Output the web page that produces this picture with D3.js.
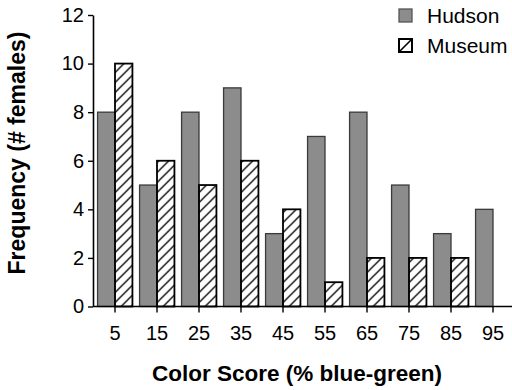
<!DOCTYPE html>
<html>
<head>
<meta charset="utf-8">
<script src="https://cdn.jsdelivr.net/npm/d3@7"></script>
<style>
  body { margin: 0; background: #fff; }
  svg { display: block; font-family: "Liberation Sans", Arial, Helvetica, sans-serif; }
</style>
</head>
<body>
<svg id="chart" width="512" height="390"></svg>
<script>
// color score bins (% blue-green)
var categories = ["5", "15", "25", "35", "45", "55", "65", "75", "85", "95"];
var series = ["Hudson", "Museum"];
var hudson = [8, 5, 8, 9, 3, 7, 8, 5, 3, 4];
var museum = [10, 6, 5, 6, 4, 1, 2, 2, 2, 0];
var yTicks = [0, 2, 4, 6, 8, 10, 12];

var svg = d3.select("#chart");

// hatch for the museum bars
var defs = svg.append("defs");
defs.append("pattern")
  .attr("id", "hatch")
  .attr("patternUnits", "userSpaceOnUse")
  .attr("width", 10)
  .attr("height", 10)
  .append("path")
  .attr("d", "M0,10 L10,0 M-2,2 L2,-2 M8,12 L12,8")
  .attr("stroke", "#000")
  .attr("stroke-width", 1.3);

var x0 = d3.scaleBand().domain(categories).range([94, 514])
  .paddingInner(0.17).paddingOuter(0.085);
var x1 = d3.scaleBand().domain(series).range([0, x0.bandwidth()]);
var y = d3.scaleLinear().domain([0, 12]).range([306.5, 15]);

var rows = categories.map(function(c, i) {
  return { cat: c, vals: [{ s: "Hudson", v: hudson[i] }, { s: "Museum", v: museum[i] }] };
});

var groups = svg.append("g").selectAll("g")
  .data(rows)
  .enter().append("g")
  .attr("transform", function(d) { return "translate(" + x0(d.cat) + ",0)"; });

groups.selectAll("rect")
  .data(function(d) { return d.vals.filter(function(e) { return e.v > 0; }); })
  .enter().append("rect")
  .attr("x", function(d) { return x1(d.s); })
  .attr("y", function(d) { return y(d.v); })
  .attr("width", x1.bandwidth())
  .attr("height", function(d) { return y(0) - y(d.v); })
  .attr("fill", function(d) { return d.s == "Hudson" ? "#8c8c8c" : "url(#hatch)"; })
  .attr("stroke", function(d) { return d.s == "Hudson" ? "#3a3a3a" : "#000"; })
  .attr("stroke-width", function(d) { return d.s == "Hudson" ? 1.3 : 1.8; });

// white under the hatch
groups.selectAll("rect").filter(function(d) { return d.s == "Museum"; }).each(function(d) {
  d3.select(this.parentNode).insert("rect", function() { return this.firstChild; })
    .attr("x", x1(d.s)).attr("y", y(d.v))
    .attr("width", x1.bandwidth()).attr("height", y(0) - y(d.v))
    .attr("fill", "#fff");
});

// axes
var xAxis = svg.append("g")
  .attr("transform", "translate(0," + y(0) + ")")
  .call(d3.axisBottom(x0).tickSizeOuter(0).tickSize(6).tickPadding(13));
xAxis.select(".domain").attr("d", "M93,0H512");

var yAxis = svg.append("g")
  .attr("transform", "translate(93,0)")
  .call(d3.axisLeft(y).tickValues(yTicks).tickSize(5).tickSizeOuter(0).tickPadding(4));

svg.selectAll(".domain").attr("stroke", "#000").attr("stroke-width", 1.6);
svg.selectAll(".tick line").attr("stroke", "#000").attr("stroke-width", 1.4);
svg.selectAll(".tick text").attr("font-size", 20).attr("fill", "#000")
  .style("font-family", "'Liberation Sans', Arial, sans-serif");

// titles
svg.append("text")
  .attr("transform", "translate(25,153) rotate(-90)")
  .attr("text-anchor", "middle")
  .attr("font-size", 23)
  .attr("font-weight", "bold")
  .text("Frequency (# females)");

svg.append("text")
  .attr("x", 297).attr("y", 381)
  .attr("text-anchor", "middle")
  .attr("font-size", 22.5)
  .attr("font-weight", "bold")
  .text("Color Score (% blue-green)");

// legend
var legend = svg.append("g").selectAll("g")
  .data(series)
  .enter().append("g")
  .attr("transform", function(d, i) { return "translate(399," + (9 + i * 30) + ")"; });

legend.append("rect")
  .attr("width", 13).attr("height", 13)
  .attr("fill", function(d) { return d == "Hudson" ? "#8c8c8c" : "#fff"; })
  .attr("stroke", function(d) { return d == "Hudson" ? "#555" : "#000"; })
  .attr("stroke-width", function(d) { return d == "Hudson" ? 1.3 : 2; });

legend.filter(function(d) { return d == "Museum"; })
  .append("line")
  .attr("x1", 0).attr("y1", 13).attr("x2", 13).attr("y2", 0)
  .attr("stroke", "#000").attr("stroke-width", 1.6);

legend.append("text")
  .attr("x", 28).attr("y", 14)
  .attr("font-size", 21)
  .text(function(d) { return d; });
</script>
</body>
</html>
